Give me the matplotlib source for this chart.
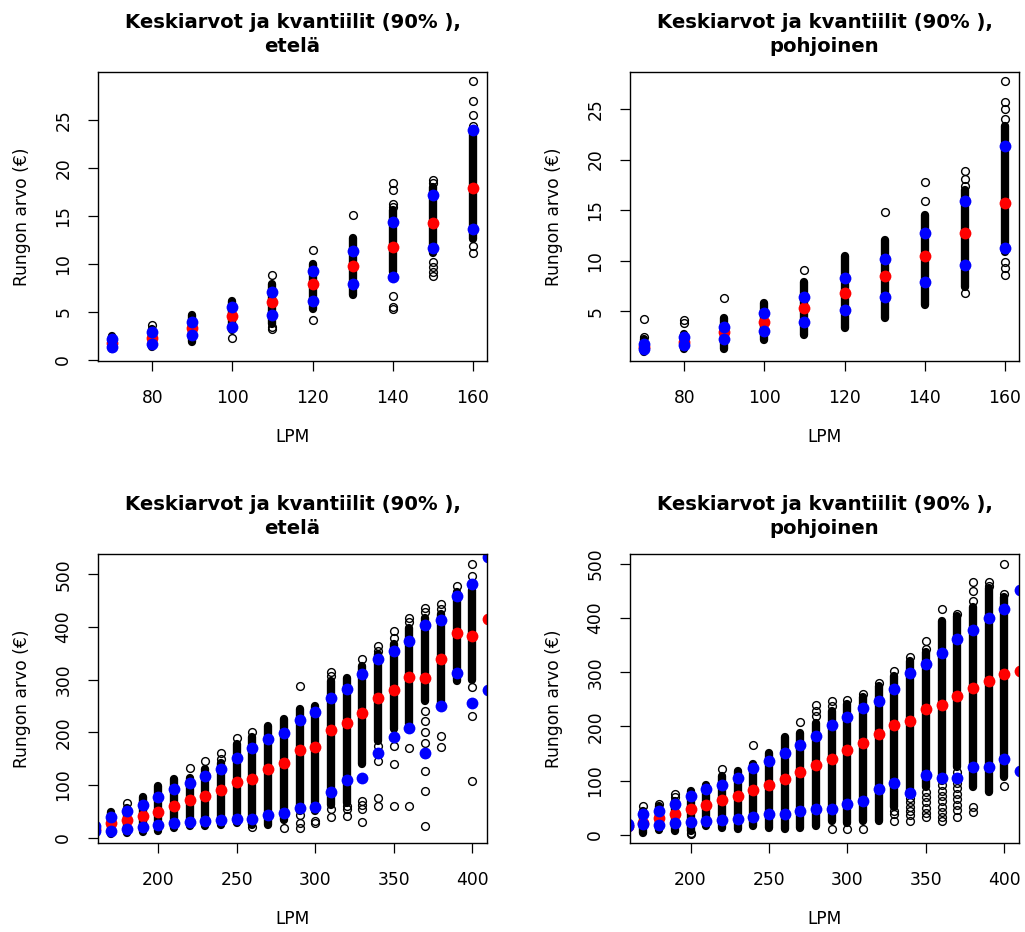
import matplotlib
matplotlib.use('Agg')
import matplotlib.pyplot as plt

# --- ylemmat kuvat: LPM 70-160 ---
top_x = [70, 80, 90, 100, 110, 120, 130, 140, 150, 160]

# etelä
tl_lo = [1.2, 1.35, 1.9, 3.1, 3.8, 5.35, 6.8, 9.2, 11.1, 12.6]
tl_hi = [2.55, 3.25, 4.65, 6.1, 7.95, 10.0, 12.7, 15.6, 18.0, 23.9]
tl_extra = [[], [3.6], [], [2.3], [8.9, 3.4, 3.2], [11.5, 4.2], [15.1],
            [18.4, 17.7, 16.3, 15.9, 6.7, 5.5, 5.3],
            [18.8, 18.4, 10.2, 9.7, 9.2, 8.75],
            [29.1, 27.0, 25.5, 24.4, 11.9, 11.2]]
tl_mean = [1.8, 2.3, 3.3, 4.6, 6.0, 7.9, 9.75, 11.8, 14.3, 17.95]
tl_q05 = [1.35, 1.7, 2.6, 3.4, 4.7, 6.2, 7.9, 8.7, 11.7, 13.6]
tl_q95 = [2.2, 2.9, 4.0, 5.5, 7.1, 9.3, 11.35, 14.4, 17.2, 24.0]

# pohjoinen
tr_lo = [1.0, 1.3, 1.3, 2.15, 2.65, 3.4, 4.3, 5.6, 7.45, 10.9]
tr_hi = [2.3, 2.8, 4.3, 5.8, 7.9, 10.5, 12.1, 14.55, 17.0, 23.3]
tr_extra = [[4.2, 2.5], [4.14, 3.88], [6.3], [], [9.1], [], [14.8],
            [17.8, 15.9], [18.9, 18.1, 17.4, 6.8],
            [27.8, 25.7, 25.0, 24.0, 9.9, 9.3, 8.6]]
tr_mean = [1.5, 2.0, 3.0, 4.0, 5.3, 6.85, 8.5, 10.5, 12.7, 15.7]
tr_q05 = [1.25, 1.65, 2.25, 3.1, 4.0, 5.1, 6.4, 7.9, 9.6, 11.3]
tr_q95 = [1.8, 2.5, 3.5, 4.8, 6.45, 8.3, 10.2, 12.7, 15.9, 21.3]

# --- alemmat kuvat: LPM 170-400 ---
bot_x = [170, 180, 190, 200, 210, 220, 230, 240, 250, 260, 270, 280,
         290, 300, 310, 320, 330, 340, 350, 360, 370, 380, 390, 400]
bot_xs = [160, 170, 180, 190, 200, 210, 220, 230, 240, 250, 260, 270, 280,
          290, 300, 310, 320, 330, 340, 350, 360, 370, 380, 390, 400, 410]

# etelä
bl_lo = [8, 9.5, 10.8, 12.7, 19, 22, 23, 25, 28.5, 25, 25, 33.6,
         50.7, 50.7, 63, 66, 140, 184, 206, 216, 260, 250, 298, 300]
bl_hi = [48.8, 57, 78, 98, 111, 114, 130, 142, 177, 192, 213, 226,
         245, 250, 298, 304, 326, 348.7, 367.6, 399, 418, 424.6, 466, 470]
bl_extra = [[], [65], [], [], [], [133], [146], [161, 149], [190], [201, 21], [], [19],
            [288, 44, 28.5, 19], [31.7, 28.5], [314, 307.6, 54, 38.6], [60, 54, 42],
            [339, 70, 62, 54, 29], [364, 355, 175, 159, 146, 76, 60],
            [393, 380, 194, 175, 140, 61], [418, 409, 171, 61],
            [437, 428, 241, 222, 200, 180, 159, 127, 89, 23],
            [443.5, 434, 194, 173], [478], [519, 497, 286, 231, 108]]
bl_mean = [17, 28, 33.6, 41, 49, 60, 72, 79, 90, 105.5, 112, 130, 142,
           166, 172, 205, 217, 237, 266, 280, 305.6, 304, 339, 389, 383, 415]
bl_q05 = [12, 13.4, 16.5, 21, 23.5, 28, 30, 32, 34, 36, 36, 42.4, 46.2,
          57, 59, 86.5, 109, 113, 161, 192, 209, 160, 250, 312, 255, 281]
bl_q95 = [22, 38.5, 51, 62.7, 76.6, 92.5, 103, 117.5, 130, 151, 170, 188, 199,
          223, 238, 266, 283, 310, 340, 355, 373, 403, 413, 459, 481, 533]

# pohjoinen
br_lo = [4, 10, 7.4, 7.4, 16.6, 13.5, 10.4, 16.6, 13.5, 11.7, 13.5, 16.6,
         26, 23, 26.4, 26, 51, 75, 88, 100, 125, 88, 78.6, 106]
br_hi = [44, 53, 62.6, 81, 91.5, 108.7, 118, 130, 151.7, 181, 188.6, 207,
         229, 241, 253.7, 275, 293.6, 321, 336.6, 395, 404, 419.5, 456, 438]
br_extra = [[53.4], [58], [75, 70.6], [4, 1], [], [121], [], [165], [], [], [208],
            [239, 228.5, 219], [247.5, 238, 11], [249, 11], [260, 11], [281],
            [303, 45, 38, 26], [328.6, 69, 60, 52, 44, 36, 26],
            [358, 342.8, 80, 70, 60, 50, 40, 32.6],
            [416, 92, 82, 72, 62, 52, 42, 34, 26],
            [407, 116, 106, 96, 86, 76, 66, 56, 46, 32.6],
            [465.6, 450, 431.8, 51, 41.8], [465.6, 459], [499, 444, 91]]
br_mean = [17, 22, 32, 38, 47, 55, 64.5, 72, 83, 91.5, 102.6, 116, 129,
           140.7, 156.6, 169, 186.7, 202, 210, 231.6, 239, 257, 271.5, 284, 296, 302]
br_q05 = [16.6, 19.7, 17.8, 22.7, 24, 25.8, 27.6, 30, 33.8, 38, 38, 44, 47,
          48.5, 56.5, 62.7, 85.4, 95, 78, 110, 105.7, 105.7, 126, 126, 140.7, 118]
br_q95 = [20, 38, 44, 56.5, 72, 84, 93, 105.7, 124, 136, 150.5, 165, 182,
          202, 218, 234.6, 247, 269.7, 299, 316, 335, 362, 377.8, 399, 415.8, 451.5]

otsikko = 'Keskiarvot ja kvantiilit (90% ),\n'
fs = 12.3


def paneeli(ax, x, lo, hi, extra, xs, mean, q05, q95, alue):
    # tiheä osa pisteistä näkyy mustana pylväänä
    lc = ax.vlines(x, lo, hi, color='black', lw=6.0)
    lc.set_capstyle('round')
    for xi, ys in zip(x, extra):
        ax.plot([xi] * len(ys), ys, 'o', mfc='none', mec='black', ms=5.6, mew=1.0)
    ax.plot(xs, mean, 'o', color='red', ms=8.5, mew=0)
    ax.plot(xs, q05, 'o', color='blue', ms=8.5, mew=0)
    ax.plot(xs, q95, 'o', color='blue', ms=8.5, mew=0)
    ax.set_title(otsikko + alue, fontsize=14.1, fontweight='bold', pad=14.5, linespacing=1.32)
    ax.set_xlabel('LPM', fontsize=fs)
    ax.set_ylabel('Rungon arvo (€)', fontsize=fs)
    ax.xaxis.set_label_coords(0.5, -0.263)
    ax.xaxis.label.set_va('center')
    ax.yaxis.set_label_coords(-0.196, 0.5)
    ax.yaxis.label.set_va('center')
    ax.tick_params(axis='both', labelsize=fs, length=7, width=0.9, direction='out')
    ax.tick_params(axis='x', pad=13)
    ax.tick_params(axis='y', pad=11.5, labelrotation=90)
    for lab in ax.get_yticklabels():
        lab.set_va('center')
    for s in ax.spines.values():
        s.set_linewidth(1.0)


fig = plt.figure(figsize=(10.25, 9.32), dpi=100)
w, h = 389 / 1025, 289 / 932
ax1 = fig.add_axes([98 / 1025, 1 - 361 / 932, w, h])
ax2 = fig.add_axes([630 / 1025, 1 - 361 / 932, w, h])
ax3 = fig.add_axes([98 / 1025, 1 - 843.3 / 932, w, h])
ax4 = fig.add_axes([630 / 1025, 1 - 843.3 / 932, w, h])

paneeli(ax1, top_x, tl_lo, tl_hi, tl_extra, top_x, tl_mean, tl_q05, tl_q95, 'etelä')
ax1.set_xlim(66.4, 163.6)
ax1.set_ylim(-0.1, 30.0)
ax1.set_xticks([80, 100, 120, 140, 160])
ax1.set_yticks([0, 5, 10, 15, 20, 25])

paneeli(ax2, top_x, tr_lo, tr_hi, tr_extra, top_x, tr_mean, tr_q05, tr_q95, 'pohjoinen')
ax2.set_xlim(66.4, 163.6)
ax2.set_ylim(0.1, 28.65)
ax2.set_xticks([80, 100, 120, 140, 160])
ax2.set_yticks([5, 10, 15, 20, 25])

paneeli(ax3, bot_x, bl_lo, bl_hi, bl_extra, bot_xs, bl_mean, bl_q05, bl_q95, 'etelä')
ax3.set_xlim(161.6, 409.4)
ax3.set_ylim(-10.6, 538)
ax3.set_xticks([200, 250, 300, 350, 400])
ax3.set_yticks([0, 100, 200, 300, 400, 500])

paneeli(ax4, bot_x, br_lo, br_hi, br_extra, bot_xs, br_mean, br_q05, br_q95, 'pohjoinen')
ax4.set_xlim(161.4, 409.4)
ax4.set_ylim(-15.3, 517.3)
ax4.set_xticks([200, 250, 300, 350, 400])
ax4.set_yticks([0, 100, 200, 300, 400, 500])

fig.savefig('out.png', dpi=100)
